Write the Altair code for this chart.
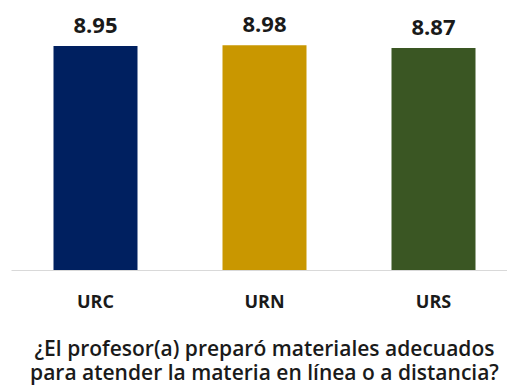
import altair as alt
import pandas as pd

categories = ["URC", "URN", "URS"]
values = [8.95, 8.98, 8.87]
labels = ["8.95", "8.98", "8.87"]
colors = ["#002060", "#C99700", "#3A5623"]
title_lines = ["¿El profesor(a) preparó materiales adecuados",
               "para atender la materia en línea o a distancia?"]

df = pd.DataFrame({"cat": categories, "val": values, "lab": labels})

FONT = "Open Sans"

x = alt.X("cat:N", sort=categories,
          scale=alt.Scale(range=[0, 507], paddingInner=0.5, paddingOuter=0.25),
          axis=alt.Axis(title=title_lines, labelAngle=0, ticks=False,
                        domainColor="#d9d9d9", domainWidth=1,
                        labelFont=FONT, labelFontSize=18, labelFontWeight="bold",
                        labelColor="#1a1a1a", labelPadding=23,
                        titleFont=FONT, titleFontSize=21, titleFontWeight=600,
                        titleColor="#1a1a1a", titlePadding=27, titleLineHeight=24,
                        titleX=253))
y = alt.Y("val:Q", scale=alt.Scale(domain=[0, 270 / 25.03], nice=False, zero=True),
          axis=None)

bars = alt.Chart(df).mark_bar(size=84).encode(
    x=x, y=y,
    color=alt.Color("cat:N", scale=alt.Scale(domain=categories, range=colors), legend=None),
)
text = alt.Chart(df).mark_text(font=FONT, fontSize=22, fontWeight="bold",
                               color="#1a1a1a", dy=-20).encode(
    x=alt.X("cat:N", sort=categories), y="val:Q", text="lab:N")

chart = (bars + text).properties(
    width=496, height=270,
    autosize=alt.AutoSizeParams(type="none"),
    padding={"left": 11, "top": 0, "right": 0, "bottom": 116},
).configure(background="white", view=alt.ViewConfig(stroke=None))

chart.save("out.html", embed_options={"renderer": "svg", "actions": False})
